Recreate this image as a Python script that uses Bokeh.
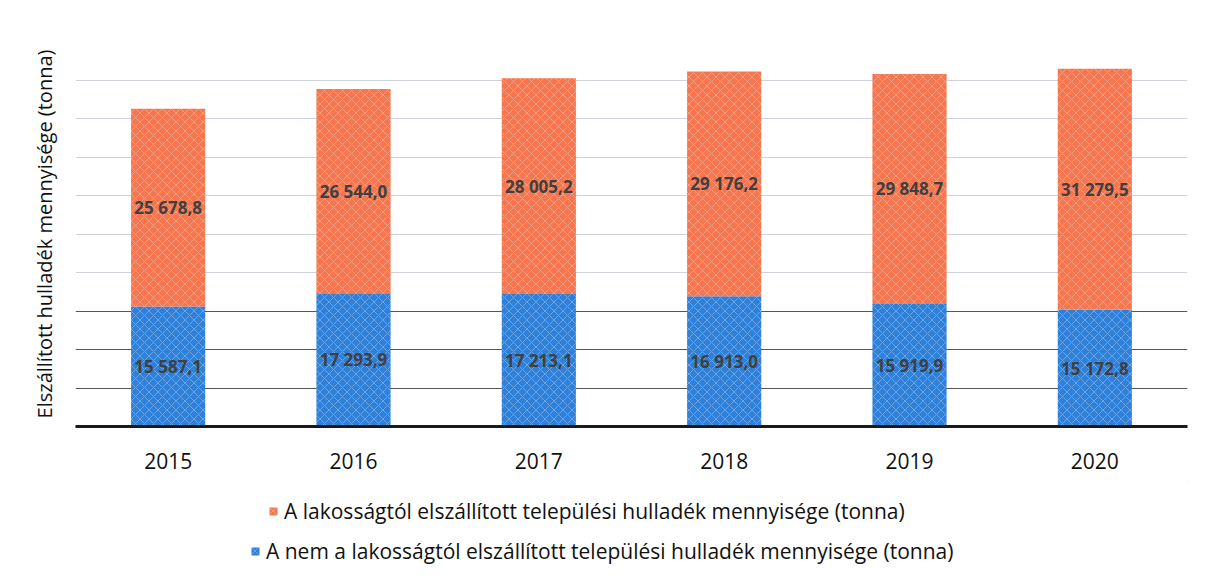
from bokeh.plotting import figure
from bokeh.layouts import column
from bokeh.models import (ColumnDataSource, Legend, LegendItem, Grid, FixedTicker,
                          LabelSet, Range1d)
from bokeh.core.properties import value
from bokeh.embed import file_html
from bokeh.resources import INLINE

years = ["2015", "2016", "2017", "2018", "2019", "2020"]
non_household = [15587.1, 17293.9, 17213.1, 16913.0, 15919.9, 15172.8]
household = [25678.8, 26544.0, 28005.2, 29176.2, 29848.7, 31279.5]
series_names = [
    "A lakosságtól elszállított települési hulladék mennyisége (tonna)",
    "A nem a lakosságtól elszállított települési hulladék mennyisége (tonna)",
]
y_title = "Elszállított hulladék mennyisége (tonna)"
grid_values = [5000, 10000, 15000, 20000, 25000, 30000, 35000, 40000, 45000, 50000]


def hu(v):
    s = f"{v:,.1f}"
    return s.replace(",", " ").replace(".", ",")


src = ColumnDataSource(dict(
    year=years,
    non=non_household,
    hh=household,
    non_mid=[v / 2 for v in non_household],
    hh_mid=[n + h / 2 for n, h in zip(non_household, household)],
    non_lab=[hu(v) for v in non_household],
    hh_lab=[hu(v) for v in household],
))

FONT = "Open Sans"
ORANGE = "#f5764f"
BLUE = "#2f80d8"
HATCH = dict(hatch_pattern="x", hatch_color="white", hatch_alpha=0.28,
             hatch_scale=9, hatch_weight=1)

p = figure(x_range=years, y_range=Range1d(0, 50000), width=1193, height=480,
           output_backend="svg", toolbar_location=None,
           min_border_left=75, min_border_right=6, min_border_top=41, min_border_bottom=54)
p.outline_line_color = None
p.xgrid.grid_line_color = None
p.ygrid.grid_line_color = None

light_grid = Grid(dimension=1, ticker=FixedTicker(ticks=[g for g in grid_values if g > 15000]),
                  grid_line_color="#cfd3dc", grid_line_width=1)
dark_grid = Grid(dimension=1, ticker=FixedTicker(ticks=[g for g in grid_values if g <= 15000]),
                 grid_line_color="#3a3a3a", grid_line_width=1.2, grid_line_alpha=0.85)
p.add_layout(light_grid)
p.add_layout(dark_grid)

renderers = p.vbar_stack(["non", "hh"], x="year", width=0.4, source=src,
                         color=[BLUE, ORANGE], line_color=None, **HATCH)

for ycol, tcol in (("non_mid", "non_lab"), ("hh_mid", "hh_lab")):
    p.add_layout(LabelSet(x="year", y=ycol, text=tcol, source=src,
                          text_align="center", text_baseline="middle",
                          text_font=value(FONT), text_font_style="bold",
                          text_font_size="17px", text_color="#404040"))

# y axis: title only
p.yaxis.ticker = FixedTicker(ticks=[])
p.yaxis.axis_label = y_title
p.yaxis.axis_label_text_font = FONT
p.yaxis.axis_label_text_font_size = "20px"
p.yaxis.axis_label_text_font_style = "normal"
p.yaxis.axis_label_text_color = "#111111"
p.yaxis.axis_label_standoff = 18
p.yaxis.major_tick_line_color = None
p.yaxis.minor_tick_line_color = None
p.yaxis.axis_line_color = None

# x axis
p.xaxis.axis_line_color = "#1a1a1a"
p.xaxis.axis_line_width = 3
p.xaxis.major_tick_line_color = None
p.xaxis.minor_tick_line_color = None
p.xaxis.major_label_text_font = FONT
p.xaxis.major_label_text_font_size = "21px"
p.xaxis.major_label_text_color = "#111111"
p.xaxis.major_label_standoff = 20

# legend figure below the chart
lf = figure(width=1193, height=85, x_range=Range1d(0, 1), y_range=Range1d(0, 1),
            output_backend="svg", toolbar_location=None,
            min_border_left=0, min_border_right=0, min_border_top=0, min_border_bottom=0)
lf.axis.visible = False
lf.grid.grid_line_color = None
lf.outline_line_color = None
# swatch-only renderers (kept outside the visible range)
dummy_hh = lf.vbar(x=[5], top=[5], bottom=[4], width=0.1, color=ORANGE, line_color=None, **HATCH)
dummy_non = lf.vbar(x=[5], top=[5], bottom=[4], width=0.1, color=BLUE, line_color=None, **HATCH)

common = dict(orientation="vertical", label_text_font=FONT, label_text_font_size="21px",
              label_text_color="#111111", glyph_width=10, glyph_height=10,
              label_standoff=6, border_line_color=None, background_fill_alpha=0,
              margin=0, padding=0)
leg1 = Legend(items=[LegendItem(label=series_names[0], renderers=[dummy_hh])],
              location=(193, 40), **common)
leg2 = Legend(items=[LegendItem(label=series_names[1], renderers=[dummy_non])],
              location=(175, 0), **common)
lf.add_layout(leg1)
lf.add_layout(leg2)

layout = column(p, lf, spacing=0)
open("out.html", "w").write(file_html(layout, INLINE))
